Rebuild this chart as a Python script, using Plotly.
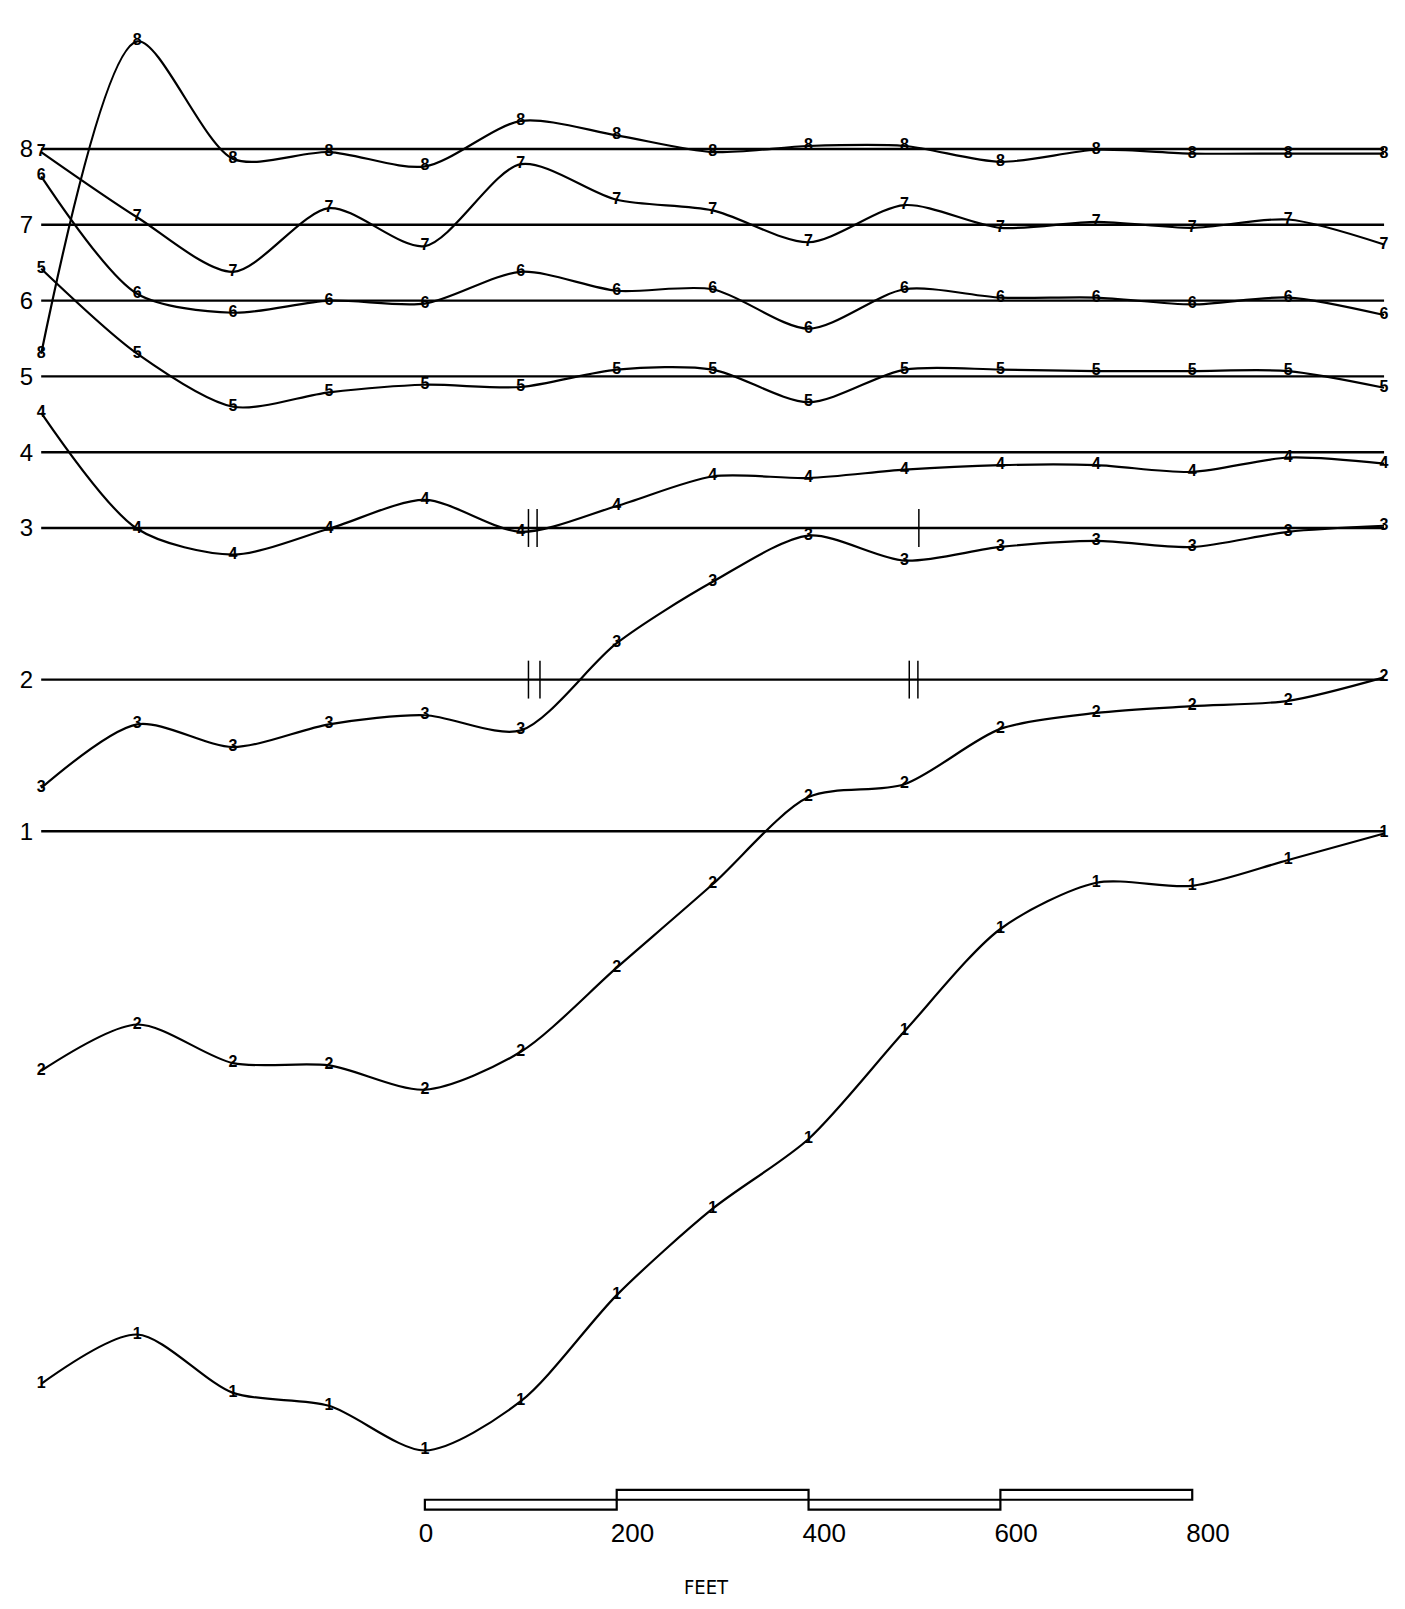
import plotly.graph_objects as go

# ---------------- data ----------------
stations_ft = [-400, -300, -200, -100, 0, 100, 200, 300, 400, 500, 600, 700, 800, 900, 1000]

ref_levels = [1, 3, 5, 6, 7, 8, 9, 10]
ref_labels = ["1", "2", "3", "4", "5", "6", "7", "8"]

profile_8 = [7.30, 11.42, 9.87, 9.96, 9.77, 10.37, 10.18, 9.96, 10.04, 10.04, 9.83, 9.99, 9.94, 9.94, 9.94]
profile_7 = [9.96, 9.10, 8.38, 9.22, 8.72, 9.80, 9.33, 9.19, 8.77, 9.26, 8.96, 9.04, 8.96, 9.07, 8.74]
profile_6 = [9.64, 8.09, 7.84, 8.00, 7.96, 8.38, 8.13, 8.15, 7.63, 8.15, 8.04, 8.04, 7.95, 8.04, 7.81]
profile_5 = [8.42, 7.30, 6.60, 6.79, 6.89, 6.86, 7.09, 7.09, 6.66, 7.09, 7.09, 7.07, 7.07, 7.07, 6.85]
profile_4 = [6.52, 4.99, 4.65, 4.99, 5.37, 4.95, 5.29, 5.68, 5.66, 5.77, 5.83, 5.83, 5.74, 5.93, 5.85]
profile_3 = [1.57, 2.41, 2.11, 2.41, 2.53, 2.33, 3.48, 4.29, 4.90, 4.57, 4.75, 4.83, 4.75, 4.95, 5.03]
profile_2 = [-2.16, -1.55, -2.06, -2.09, -2.41, -1.91, -0.80, 0.30, 1.45, 1.62, 2.35, 2.56, 2.65, 2.72, 3.03]
profile_1 = [-6.29, -5.64, -6.41, -6.58, -7.17, -6.52, -5.12, -3.98, -3.06, -1.64, -0.29, 0.32, 0.28, 0.62, 0.97]

profiles = [("1", profile_1), ("2", profile_2), ("3", profile_3), ("4", profile_4),
            ("5", profile_5), ("6", profile_6), ("7", profile_7), ("8", profile_8)]

scale_ft = [0, 200, 400, 600, 800]
scale_labels = ["0", "200", "400", "600", "800"]

# small vertical marks crossing reference lines (x in feet, reference level)
mark_x = [108, 117, 515, 108, 120, 505, 514]
mark_level = [5, 5, 5, 3, 3, 3, 3]

# ---------------- figure ----------------
fig = go.Figure()

for lvl in ref_levels:
    fig.add_trace(go.Scatter(
        x=[stations_ft[0], stations_ft[-1]], y=[lvl, lvl], mode="lines",
        line=dict(color="black", width=2.4), hoverinfo="skip"))

for lab, vals in profiles:
    fig.add_trace(go.Scatter(
        x=stations_ft, y=vals, mode="lines+text",
        text=[lab] * len(vals), textposition="middle center",
        textfont=dict(size=16, color="black", family="Liberation Sans", weight="bold"),
        line=dict(color="black", width=2.2, shape="spline", smoothing=0.8),
        cliponaxis=False))

shapes = []
for i in range(len(scale_ft) - 1):
    upper = (i % 2 == 1)
    y0, y1 = (-7.82, -7.69) if upper else (-7.95, -7.82)
    shapes.append(dict(type="rect", xref="x", yref="y",
                       x0=scale_ft[i], x1=scale_ft[i + 1], y0=y0, y1=y1,
                       line=dict(color="black", width=2.2), fillcolor="white"))

for mx, ml in zip(mark_x, mark_level):
    shapes.append(dict(type="line", xref="x", yref="y",
                       x0=mx, x1=mx, y0=ml - 0.25, y1=ml + 0.25,
                       line=dict(color="black", width=1.5)))

fig.update_layout(
    width=1405, height=1609,
    margin=dict(l=22, r=18, t=12, b=102),
    paper_bgcolor="white", plot_bgcolor="white",
    showlegend=False,
    shapes=shapes,
    xaxis=dict(range=[-407.5, 1011.4], tickvals=scale_ft, ticktext=scale_labels,
               ticklabelposition="outside right", ticklabelshift=-6, ticks="",
               showgrid=False, zeroline=False, showline=False,
               tickfont=dict(size=26, color="black", family="Liberation Sans")),
    yaxis=dict(range=[-8.021, 11.702], tickvals=ref_levels, ticktext=ref_labels,
               ticks="", showgrid=False, zeroline=False, showline=False,
               tickfont=dict(size=24, color="black", family="Liberation Sans")),
    annotations=[dict(text="FEET", xref="paper", yref="paper", x=0.4938, y=-0.048,
                      xanchor="center", yanchor="middle", showarrow=False,
                      font=dict(size=20, color="black",
                                family="Liberation Sans Narrow, DejaVu Sans Condensed, Liberation Sans"))],
)

fig.write_html("out.html")
